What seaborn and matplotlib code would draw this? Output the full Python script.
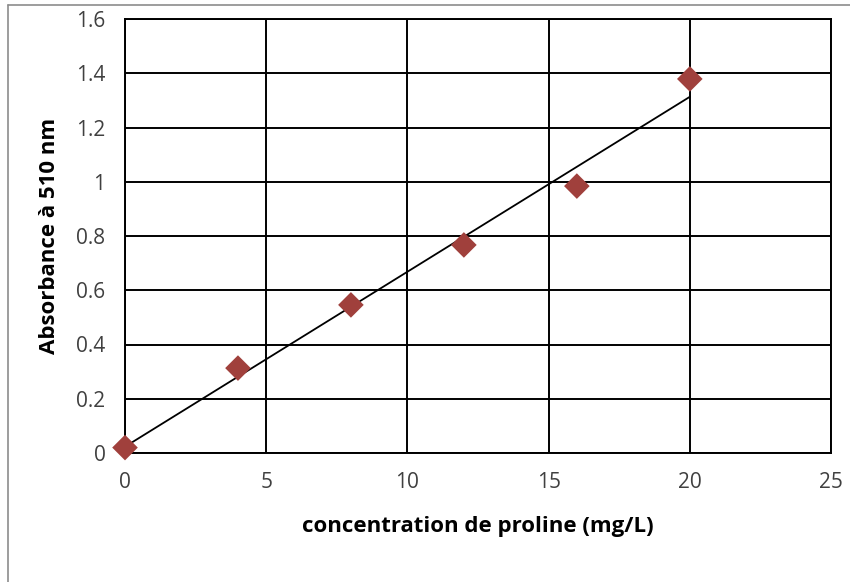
import matplotlib
matplotlib.use("Agg")
import matplotlib.pyplot as plt
from matplotlib.lines import Line2D
import seaborn as sns
import pandas as pd

concentration = [0, 4, 8, 12, 16, 20]
absorbance = [0.02, 0.313, 0.546, 0.767, 0.984, 1.379]
x_ticks = [0, 5, 10, 15, 20, 25]
y_ticks = [0, 0.2, 0.4, 0.6, 0.8, 1.0, 1.2, 1.4, 1.6]
y_tick_labels = ["0", "0.2", "0.4", "0.6", "0.8", "1", "1.2", "1.4", "1.6"]
x_label = "concentration de proline (mg/L)"
y_label = "Absorbance à 510 nm"

df = pd.DataFrame({"x": concentration, "y": absorbance})

sns.set_theme(style="white")
plt.rcParams["font.family"] = ["Open Sans", "DejaVu Sans"]

W, H = 850, 582
fig = plt.figure(figsize=(W / 100, H / 100), dpi=100)
ax = fig.add_axes([125 / W, 1 - 453 / H, (831 - 125) / W, (453 - 19) / H])

sns.regplot(data=df, x="x", y="y", ax=ax, ci=None, truncate=True,
            scatter=False, line_kws=dict(color="black", lw=1.3, zorder=3))
sns.scatterplot(data=df, x="x", y="y", ax=ax, marker="D", s=170,
                color="#A0403C", edgecolor="none", zorder=4, clip_on=False)

ax.set_xlim(0, 25)
ax.set_ylim(0, 1.6)
ax.set_xticks(x_ticks)
ax.set_xticklabels([str(t) for t in x_ticks])
ax.set_yticks(y_ticks)
ax.set_yticklabels(y_tick_labels)
ax.grid(True, color="black", lw=1.4)
ax.set_axisbelow(True)
for s in ax.spines.values():
    s.set_color("black")
    s.set_linewidth(1.4)
ax.tick_params(axis="both", length=0, labelsize=15, labelcolor="#404040")
ax.tick_params(axis="x", pad=14)
ax.tick_params(axis="y", pad=14)
ax.set_xlabel(x_label, fontsize=16, fontweight="bold", color="black", labelpad=16)
ax.set_ylabel(y_label, fontsize=16, fontweight="bold", color="black", labelpad=12)

# outer chart border (gray), visible only on top and left
fig.add_artist(Line2D([8 / W, 1], [1 - 4.5 / H, 1 - 4.5 / H], transform=fig.transFigure,
                      color="#8c8c8c", lw=1.2))
fig.add_artist(Line2D([8 / W, 8 / W], [0, 1 - 4.5 / H], transform=fig.transFigure,
                      color="#8c8c8c", lw=1.2))

fig.savefig("out.png", dpi=100)
